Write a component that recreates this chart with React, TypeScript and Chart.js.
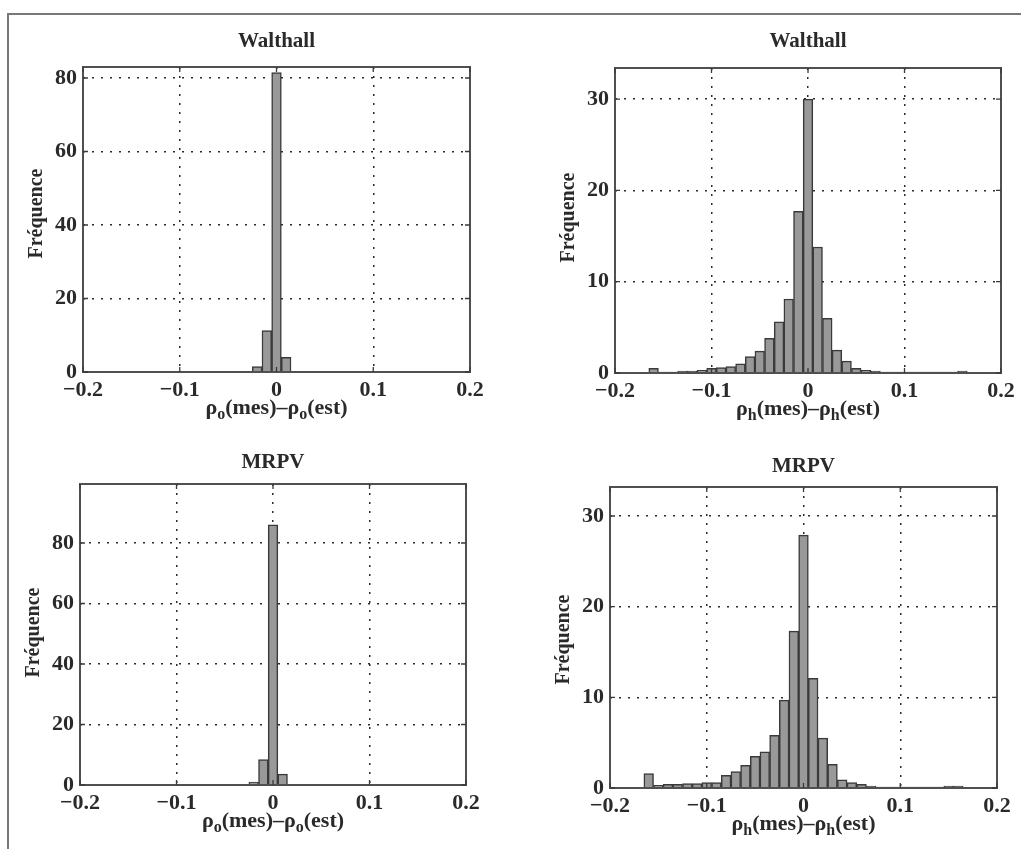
import React, { useEffect, useRef } from "react";
import { Chart, registerables } from "chart.js";

Chart.register(...registerables);

// ---------- data ----------
const binCenters = [
  -0.2, -0.19, -0.18, -0.17, -0.16, -0.15, -0.14, -0.13, -0.12, -0.11,
  -0.1, -0.09, -0.08, -0.07, -0.06, -0.05, -0.04, -0.03, -0.02, -0.01,
  0, 0.01, 0.02, 0.03, 0.04, 0.05, 0.06, 0.07, 0.08, 0.09,
  0.1, 0.11, 0.12, 0.13, 0.14, 0.15, 0.16, 0.17, 0.18, 0.19, 0.2,
];

// Walthall, rho_o(mes) - rho_o(est)
const walthallRhoO = [
  0, 0, 0, 0, 0, 0, 0, 0, 0, 0,
  0, 0, 0, 0, 0, 0, 0, 0, 1.5, 11.3,
  81.5, 4.0, 0, 0, 0, 0, 0, 0, 0, 0,
  0, 0, 0, 0, 0, 0, 0, 0, 0, 0, 0,
];

// Walthall, rho_h(mes) - rho_h(est)
const walthallRhoH = [
  0, 0, 0, 0, 0.5, 0.1, 0.1, 0.2, 0.2, 0.3,
  0.5, 0.6, 0.7, 1.0, 1.8, 2.4, 3.8, 5.6, 8.1, 17.7,
  30.0, 13.8, 6.0, 2.5, 1.3, 0.5, 0.3, 0.2, 0.1, 0.1,
  0.1, 0.1, 0.1, 0.1, 0.1, 0.1, 0.2, 0, 0, 0, 0,
];

// MRPV, rho_o(mes) - rho_o(est)
const mrpvRhoO = [
  0, 0, 0, 0, 0, 0, 0, 0, 0, 0,
  0, 0, 0, 0, 0, 0, 0, 0, 1.0, 8.4,
  86.0, 3.6, 0, 0, 0, 0, 0, 0, 0, 0,
  0, 0, 0, 0, 0, 0, 0, 0, 0, 0, 0,
];

// MRPV, rho_h(mes) - rho_h(est)
const mrpvRhoH = [
  0, 0, 0, 0, 1.6, 0.3, 0.4, 0.4, 0.5, 0.5,
  0.6, 0.6, 1.4, 1.8, 2.5, 3.5, 4.0, 5.8, 9.7, 17.3,
  27.9, 12.1, 5.5, 2.6, 0.9, 0.6, 0.4, 0.2, 0.1, 0.1,
  0.1, 0.1, 0.1, 0.1, 0.1, 0.2, 0.2, 0, 0, 0, 0,
];

const xTickValues = [-0.2, -0.1, 0, 0.1, 0.2];
const xTickLabels = ["\u22120.2", "\u22120.1", "0", "0.1", "0.2"];
const yTicksRhoO = [0, 20, 40, 60, 80];
const yTicksRhoH = [0, 10, 20, 30];

const panelTitles = ["Walthall", "Walthall", "MRPV", "MRPV"];
const subscripts = ["o", "h", "o", "h"];
const yAxisLabel = "Fréquence";

// ---------- styling / layout ----------
const SERIF = '"Liberation Serif", "Times New Roman", Times, serif';
const TEXT = "#2a2a2a";

type Rect = { x: number; y: number; w: number; h: number };
type Area = { l: number; t: number; r: number; b: number };

const panels = [
  { values: walthallRhoO, yTicks: yTicksRhoO, yMax: 83, title: panelTitles[0], sub: subscripts[0],
    rect: { x: 14, y: 18, w: 494, h: 417 }, area: { l: 83, t: 67, r: 470, b: 372 }, titleGap: 20, yShift: -6 },
  { values: walthallRhoH, yTicks: yTicksRhoH, yMax: 33.4, title: panelTitles[1], sub: subscripts[1],
    rect: { x: 520, y: 18, w: 501, h: 417 }, area: { l: 615, t: 68, r: 1001, b: 373 }, titleGap: 21, yShift: -3 },
  { values: mrpvRhoO, yTicks: yTicksRhoO, yMax: 99.5, title: panelTitles[2], sub: subscripts[2],
    rect: { x: 14, y: 437, w: 494, h: 408 }, area: { l: 80, t: 484, r: 466, b: 785 }, titleGap: 16, yShift: -2 },
  { values: mrpvRhoH, yTicks: yTicksRhoH, yMax: 33.2, title: panelTitles[3], sub: subscripts[3],
    rect: { x: 520, y: 437, w: 501, h: 408 }, area: { l: 610, t: 487, r: 997, b: 788 }, titleGap: 15, yShift: 2 },
];

const decoPlugin = {
  id: "panelDeco",
  afterDraw(chart: any, _args: any, opts: any) {
    const ctx = chart.ctx as CanvasRenderingContext2D;
    const a = chart.chartArea;
    const xs = chart.scales.x;
    const ys = chart.scales.y;
    ctx.save();
    // box
    ctx.strokeStyle = "#505050";
    ctx.lineWidth = 2;
    ctx.strokeRect(a.left, a.top, a.right - a.left, a.bottom - a.top);
    // inward tick marks
    ctx.lineWidth = 1.3;
    ctx.strokeStyle = "#3a3a3a";
    const tl = 5;
    ctx.beginPath();
    for (const v of xTickValues) {
      const px = xs.getPixelForValue(v);
      ctx.moveTo(px, a.bottom);
      ctx.lineTo(px, a.bottom - tl);
      ctx.moveTo(px, a.top);
      ctx.lineTo(px, a.top + tl);
    }
    for (const v of opts.yTicks) {
      const py = ys.getPixelForValue(v);
      ctx.moveTo(a.left, py);
      ctx.lineTo(a.left + tl, py);
      ctx.moveTo(a.right, py);
      ctx.lineTo(a.right - tl, py);
    }
    ctx.stroke();

    ctx.fillStyle = TEXT;
    const cx = (a.left + a.right) / 2;
    // title
    ctx.font = `bold 21px ${SERIF}`;
    ctx.textAlign = "center";
    ctx.textBaseline = "alphabetic";
    ctx.fillText(opts.title, cx, a.top - opts.titleGap);

    // y label
    ctx.save();
    ctx.translate(a.left - 46, (a.top + a.bottom) / 2 + opts.yShift);
    ctx.rotate(-Math.PI / 2);
    ctx.font = `bold 20px ${SERIF}`;
    ctx.textAlign = "center";
    ctx.textBaseline = "middle";
    ctx.fillText(yAxisLabel, 0, 0);
    ctx.restore();

    // x label with subscripts
    const mainFont = `bold 22px ${SERIF}`;
    const subFont = `bold 16px ${SERIF}`;
    const parts = [
      { t: "\u03c1", s: false },
      { t: opts.sub, s: true },
      { t: "(mes)\u2013", s: false },
      { t: "\u03c1", s: false },
      { t: opts.sub, s: true },
      { t: "(est)", s: false },
    ];
    let total = 0;
    const widths: number[] = [];
    for (const p of parts) {
      ctx.font = p.s ? subFont : mainFont;
      const w = ctx.measureText(p.t).width;
      widths.push(w);
      total += w;
    }
    let x = cx - total / 2;
    const base = a.bottom + 42;
    ctx.textAlign = "left";
    ctx.textBaseline = "alphabetic";
    parts.forEach((p, i) => {
      ctx.font = p.s ? subFont : mainFont;
      ctx.fillText(p.t, x, p.s ? base + 5 : base);
      x += widths[i];
    });
    ctx.restore();
  },
};

function Panel(props: {
  values: number[]; yTicks: number[]; yMax: number; title: string; sub: string;
  rect: Rect; area: Area; titleGap: number; yShift: number;
}) {
  const ref = useRef<HTMLCanvasElement | null>(null);
  const { values, yTicks, yMax, title, sub, rect, area, titleGap, yShift } = props;

  useEffect(() => {
    if (!ref.current) return;
    const yWidth = area.l - rect.x;
    const xHeight = rect.y + rect.h - area.b;
    const chart = new Chart(ref.current, {
      type: "bar",
      data: {
        datasets: [
          {
            data: binCenters.map((c, i) => ({ x: c, y: values[i] })),
            backgroundColor: "#999999",
            borderColor: "#3a3a3a",
            borderWidth: 1.5,
            categoryPercentage: 1,
            barPercentage: 1,
          } as any,
        ],
      },
      options: {
        animation: false,
        responsive: false,
        maintainAspectRatio: false,
        devicePixelRatio: 1,
        layout: {
          padding: { left: 0, top: area.t - rect.y, right: rect.x + rect.w - area.r, bottom: 0 },
        },
        plugins: {
          legend: { display: false },
          tooltip: { enabled: false },
          title: { display: false },
          panelDeco: { title, sub, yTicks, titleGap, yShift },
        } as any,
        scales: {
          x: {
            type: "linear",
            min: -0.2,
            max: 0.2,
            offset: false,
            afterBuildTicks: (s: any) => {
              s.ticks = xTickValues.map((v) => ({ value: v }));
            },
            afterFit: (s: any) => {
              s.height = xHeight;
            },
            ticks: {
              autoSkip: false,
              maxRotation: 0,
              minRotation: 0,
              padding: 5,
              color: TEXT,
              font: { family: SERIF, size: 22, weight: "bold" },
              callback: (_v: any, i: number) => xTickLabels[i],
            },
            grid: { color: "#2b2b2b", lineWidth: 1.5, drawTicks: false, offset: false },
            border: { display: false, dash: [2, 7] },
          },
          y: {
            type: "linear",
            min: 0,
            max: yMax,
            afterBuildTicks: (s: any) => {
              s.ticks = yTicks.map((v) => ({ value: v }));
            },
            afterFit: (s: any) => {
              s.width = yWidth;
            },
            ticks: {
              autoSkip: false,
              padding: 6,
              color: TEXT,
              font: { family: SERIF, size: 22, weight: "bold" },
              callback: (v: any) => String(v),
            },
            grid: { color: "#2b2b2b", lineWidth: 1.5, drawTicks: false, offset: false },
            border: { display: false, dash: [2, 7] },
          },
        },
      } as any,
      plugins: [decoPlugin as any],
    });
    return () => chart.destroy();
  }, []);

  return (
    <canvas
      ref={ref}
      width={rect.w}
      height={rect.h}
      style={{ position: "absolute", left: rect.x, top: rect.y, width: rect.w, height: rect.h }}
    />
  );
}

export default function App() {
  return (
    <div
      style={{
        position: "absolute",
        left: 0,
        top: 0,
        width: 1021,
        height: 849,
        overflow: "hidden",
        background: "#ffffff",
      }}
    >
      <div
        style={{
          position: "absolute",
          left: 7,
          top: 13,
          width: 1014,
          height: 836,
          boxSizing: "border-box",
          borderTop: "2px solid #777",
          borderLeft: "2px solid #777",
        }}
      />
      {panels.map((p, i) => (
        <Panel key={i} {...p} />
      ))}
    </div>
  );
}
